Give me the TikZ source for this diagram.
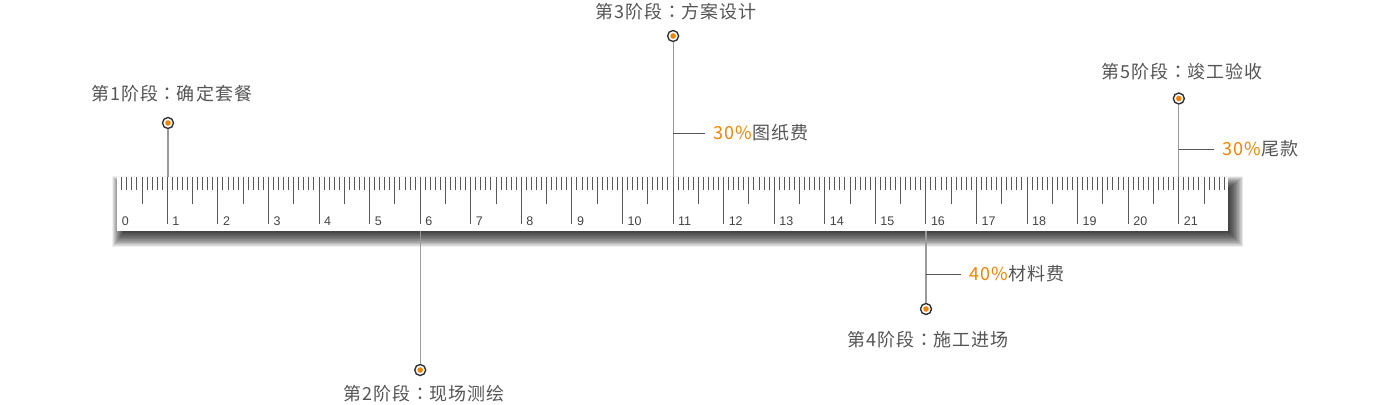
\documentclass[tikz,border=0pt]{standalone}
\usepackage{fontspec}
\setmainfont{Liberation Sans}
\newfontfamily\cjk[LetterSpace=7]{Noto Sans CJK SC}
\newfontfamily\cjkjp{Noto Sans CJK JP}
\definecolor{txt}{HTML}{555555}
\definecolor{numc}{HTML}{444444}
\definecolor{org}{HTML}{F08300}
\definecolor{tickc}{HTML}{585858}
\definecolor{stemc}{HTML}{9A9A9A}
\definecolor{ringc}{HTML}{333333}
\newcommand{\cln}{{\cjkjp ：}}
\begin{document}
\begin{tikzpicture}[x=1bp,y=-1bp,
  marker/.style={circle,draw=ringc,line width=1.4bp,fill=white,minimum size=11bp,inner sep=0pt,
    path picture={\fill[org] (path picture bounding box.center) circle (2.8bp);}},
  stem/.style={draw=stemc,line width=1.2bp},
  branch/.style={draw=txt,line width=0.9bp,shorten >=8bp},
  stage/.style={font=\cjk\fontsize{18bp}{20bp}\selectfont,text=txt,inner sep=0pt},
  pay/.style={font=\cjk\fontsize{18bp}{20bp}\selectfont,text=txt,inner sep=0pt,anchor=west},
  num/.style={font=\fontsize{12.5bp}{13bp}\selectfont,text=numc,inner sep=0pt,anchor=base west},
  tickline/.style={draw=tickc,line width=0.9bp}]
\useasboundingbox (0,0) rectangle (1389,404);
% shadow
\foreach \k in {0,...,24}{
  \fill[black,opacity=0.05] (124-0.5*\k,188-0.5*\k) rectangle (1229+0.6*\k,232+0.62*\k);
}
% ruler body
\fill[white] (117,177) rectangle (1228,231);
% ticks
\foreach \i in {1,...,219}{
  \pgfmathsetmacro\xx{116.7+5.057*\i}
  \pgfmathtruncatemacro\m{mod(\i,10)}
  \ifnum\m=0 \def\len{47}\else\ifnum\m=5 \def\len{27}\else\def\len{13}\fi\fi
  \draw[tickline] (\xx,177) -- (\xx,177+\len);
}
% numbers
\foreach \n in {0,...,21}{
  \node[num] (n\n) at (116.7+50.57*\n+5,225) {\n};
}
% stage 1
\node[marker] (m1) at (168,123) {};
\coordinate (r1) at (168,177);
\draw[stem] (m1) -- (r1);
\node[stage] (t1) at (172,94) {第1阶段\cln 确定套餐};
% stage 2
\node[marker] (m2) at (420.2,370) {};
\coordinate (r2) at (420.2,231);
\draw[stem] (r2) -- (m2);
\node[stage] (t2) at (424,394) {第2阶段\cln 现场测绘};
% stage 3
\node[marker] (m3) at (673.1,36) {};
\coordinate (r3) at (673.1,177);
\draw[stem] (m3) -- (r3);
\node[stage] (t3) at (676,12) {第3阶段\cln 方案设计};
\coordinate (b3) at (673.1,133);
\node[pay] (p3) at (713,133) {{\color{org}30\%}图纸费};
\draw[branch] (b3) -- (p3.west);
% stage 4
\node[marker] (m4) at (926,309) {};
\coordinate (r4) at (926,231);
\draw[stem] (r4) -- (m4);
\node[stage] (t4) at (928,340) {第4阶段\cln 施工进场};
\coordinate (b4) at (926,274);
\node[pay] (p4) at (969,274) {{\color{org}40\%}材料费};
\draw[branch] (b4) -- (p4.west);
% stage 5
\node[marker] (m5) at (1178.8,98.5) {};
\coordinate (r5) at (1178.8,177);
\draw[stem] (m5) -- (r5);
\node[stage] (t5) at (1182,72) {第5阶段\cln 竣工验收};
\coordinate (b5) at (1178.8,149);
\node[pay] (p5) at (1222,149) {{\color{org}30\%}尾款};
\draw[branch] (b5) -- (p5.west);
\end{tikzpicture}
\end{document}
